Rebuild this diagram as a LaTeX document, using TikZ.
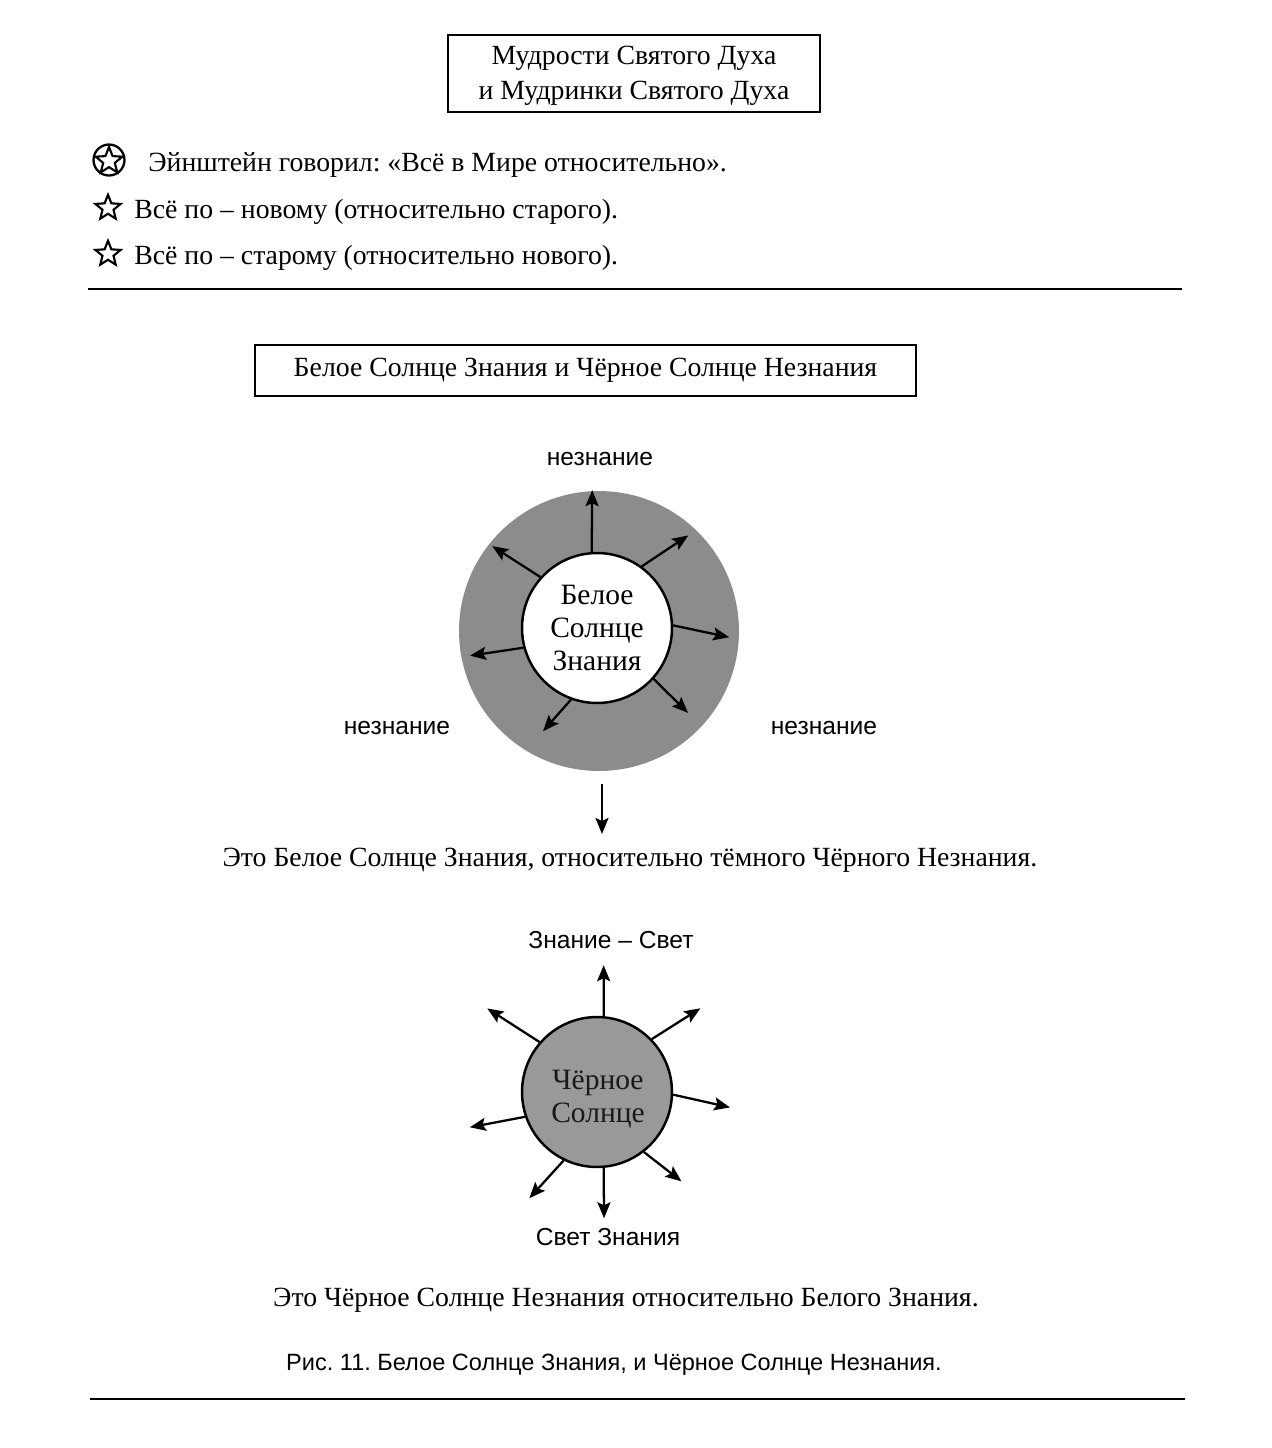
\documentclass[tikz,border=0pt]{standalone}
\usepackage{fontspec}
\setmainfont{Liberation Serif}
\setsansfont{Liberation Sans}
\usetikzlibrary{arrows.meta,shapes.geometric}
\frenchspacing

\begin{document}
\begin{tikzpicture}[x=0.02cm, y=-0.02cm,
  every node/.style={inner sep=0pt},
  txt/.style={font=\fontsize{15.8}{19.9}\selectfont},
  suntxt/.style={font=\fontsize{16.8}{19}\selectfont, align=center},
  lbl/.style={font=\sffamily\fontsize{14}{16}\selectfont},
  frame/.style={draw, line width=1.1pt},
  starsym/.style={draw, star, star points=5, star point ratio=2.3, line width=1.2pt, minimum size=0.53cm},
  ray/.style={-{Stealth[length=0.32cm,width=0.26cm,inset=0.06cm]}, line width=1.3pt},
  rule/.style={line width=1.2pt}]
\useasboundingbox (0,0) rectangle (1272,1448);
% Heading box
\node[frame, txt, align=center, minimum width=7.44cm, minimum height=1.54cm] (head) at (634,73.5) {};
\node[txt, align=center] (headtxt) at (634,76) {Мудрости Святого Духа\\и Мудринки Святого Духа};
% Sayings
\node[draw, circle, line width=1.3pt, minimum size=0.62cm] (cstar) at (109,160) {};
\node[starsym, minimum size=0.56cm] (star1) at (109,161) {};
\node[txt, anchor=base west] (say1) at (148,171) {Эйнштейн говорил: «Всё в Мире относительно».};
\node[starsym] (star2) at (108,208) {};
\node[txt, anchor=base west] (say2) at (134,218) {Всё по – новому (относительно старого).};
\node[starsym] (star3) at (108,254) {};
\node[txt, anchor=base west] (say3) at (134,264) {Всё по – старому (относительно нового).};
\draw[rule] (88,289) -- (1182,289);
% Second heading
\node[frame, txt, minimum width=13.22cm, minimum height=1.02cm] (sub) at (585.5,370.5)
  {Белое Солнце Знания и Чёрное Солнце Незнания};
% White sun in dark ring
\node[circle, fill=black!45, minimum size=5.6cm] (ring) at (599,631) {};
\node[circle, draw, fill=white, line width=1.4pt, minimum size=3cm, suntxt] (wsun) at (597,628)
  {Белое\\Солнце\\Знания};
\foreach \s/\e/\len in {94.5/92/2.76, 54/45.4/2.60, 2/-4/2.65, -42/-43/2.49,
                        250/242.4/2.33, 195/192.3/2.60, 138/142/2.66}
  \draw[ray] (wsun.\s) -- ([shift={(\e:\len cm)}]wsun.center);
\node[lbl] (nztop) at (600,459) {незнание};
\node[lbl] (nzleft) at (397,728) {незнание};
\node[lbl] (nzright) at (824,728) {незнание};
\coordinate (dtop) at (602,784);
\coordinate (dend) at (602,834);
\draw[ray] (dtop) -- (dend);
\node[txt] (cap1) at (630,860) {Это Белое Солнце Знания, относительно тёмного Чёрного Незнания.};
% Black sun
\node[circle, draw, fill=black!40, line width=1.4pt, minimum size=3cm] (bsun) at (597,1092) {};
\node[suntxt, text=black!90] (bsuntxt) at (598,1099) {Чёрное\\Солнце};
\foreach \s/\e/\len in {85/87/2.54, 44/39/2.66, -2/-6.6/2.68, -52/-46.6/2.46,
                        -85/-86.8/2.53, 244/237.5/2.52, 199/195.5/2.64, 139/142.7/2.76}
  \draw[ray] (bsun.\s) -- ([shift={(\e:\len cm)}]bsun.center);
\node[lbl] (lighttop) at (611,940) {Знание – Свет};
\node[lbl] (lightbot) at (608,1237) {Свет Знания};
\node[txt] (cap2) at (626,1300) {Это Чёрное Солнце Незнания относительно Белого Знания.};
% Figure caption
\node[font=\sffamily\fontsize{13.4}{15}\selectfont] (fig) at (614,1365) {Рис. 11. Белое Солнце Знания, и Чёрное Солнце Незнания.};
\draw[rule] (90,1399) -- (1185,1399);
\end{tikzpicture}
\end{document}
